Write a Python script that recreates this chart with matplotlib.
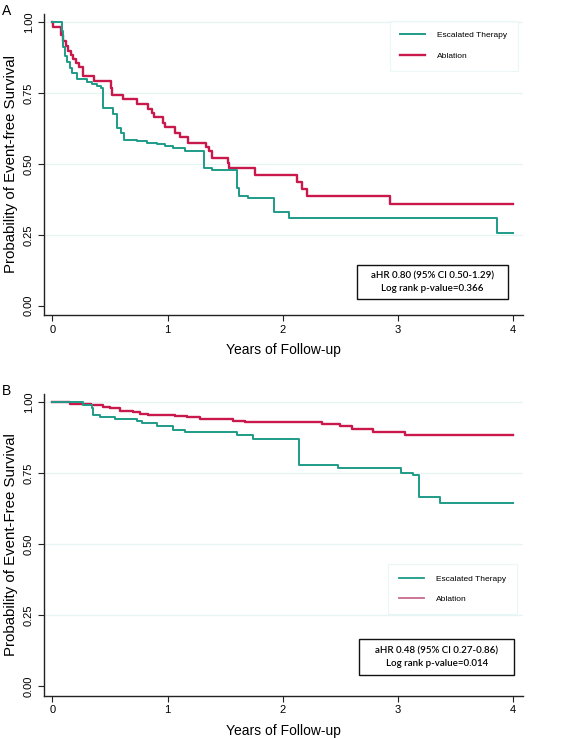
import matplotlib
matplotlib.use("Agg")
import matplotlib.pyplot as plt
from matplotlib.patches import Rectangle
from matplotlib.lines import Line2D

# ---------------- data ----------------
# Panel A
a_esc_t = [0.0, 0.081, 0.09, 0.11, 0.124, 0.153, 0.168, 0.217, 0.304, 0.341, 0.385, 0.419,
           0.437, 0.529, 0.558, 0.593, 0.622, 0.732, 0.818, 0.905, 0.978, 1.05, 1.151,
           1.316, 1.382, 1.605, 1.623, 1.70, 1.926, 2.056, 3.861, 4.0]
a_esc_s = [1.0, 0.97, 0.914, 0.881, 0.86, 0.84, 0.822, 0.801, 0.79, 0.782, 0.775, 0.767,
           0.696, 0.676, 0.626, 0.61, 0.585, 0.58, 0.575, 0.57, 0.565, 0.555, 0.545,
           0.485, 0.48, 0.414, 0.388, 0.38, 0.329, 0.308, 0.258, 0.258]
a_abl_t = [0.0, 0.005, 0.075, 0.095, 0.116, 0.139, 0.159, 0.182, 0.205, 0.231, 0.263,
           0.364, 0.506, 0.515, 0.616, 0.732, 0.833, 0.862, 0.882, 0.963, 0.978, 1.064,
           1.108, 1.18, 1.333, 1.362, 1.388, 1.521, 1.536, 1.758, 2.12, 2.163, 2.207,
           2.93, 4.0]
a_abl_s = [1.0, 0.985, 0.955, 0.935, 0.918, 0.90, 0.885, 0.872, 0.857, 0.843, 0.81,
           0.793, 0.767, 0.744, 0.729, 0.711, 0.695, 0.68, 0.665, 0.644, 0.629, 0.61,
           0.595, 0.575, 0.56, 0.545, 0.52, 0.502, 0.485, 0.461, 0.438, 0.412, 0.387,
           0.359, 0.359]

# Panel B
b_esc_t = [0.0, 0.27, 0.341, 0.35, 0.414, 0.544, 0.732, 0.775, 0.905, 1.05, 1.151, 1.60,
           1.744, 2.143, 2.481, 3.03, 3.132, 3.185, 3.364, 4.0]
b_esc_s = [1.0, 0.99, 0.98, 0.955, 0.947, 0.943, 0.935, 0.928, 0.918, 0.902, 0.897, 0.885,
           0.87, 0.78, 0.769, 0.752, 0.745, 0.665, 0.647, 0.647]
b_abl_t = [0.0, 0.153, 0.34, 0.44, 0.50, 0.587, 0.70, 0.76, 0.833, 1.064, 1.166, 1.281,
           1.383, 1.57, 1.67, 1.975, 2.337, 2.50, 2.60, 2.785, 3.06, 4.0]
b_abl_s = [1.0, 0.995, 0.99, 0.985, 0.98, 0.971, 0.965, 0.96, 0.957, 0.952, 0.947, 0.943,
           0.94, 0.935, 0.932, 0.929, 0.925, 0.917, 0.906, 0.897, 0.885, 0.885]

series_names = ["Escalated Therapy", "Ablation"]
x_ticks = [0, 1, 2, 3, 4]
y_ticks = [0.0, 0.25, 0.5, 0.75, 1.0]
y_ticklabels = ["0.00", "0.25", "0.50", "0.75", "1.00"]
panel_letters = ["A", "B"]
ylabels = ["Probability of Event-free Survival", "Probability of Event-Free Survival"]
xlabel = "Years of Follow-up"
stats_texts = ["aHR 0.80 (95% CI 0.50-1.29)\nLog rank p-value=0.366",
               "aHR 0.48 (95% CI 0.27-0.86)\nLog rank p-value=0.014"]

TEAL = "#1e9b88"
RED = "#c8184c"
GRID = "#e6f4f4"

plt.rcParams['font.family'] = ['Liberation Sans', 'DejaVu Sans']

fig = plt.figure(figsize=(5.73, 7.38), dpi=100)
W, H = 573, 738

def make_axes(top_px, bottom_px):
    left_px, right_px = 43.5, 522.5
    return fig.add_axes([left_px / W, 1 - bottom_px / H,
                         (right_px - left_px) / W, (bottom_px - top_px) / H])

axA = make_axes(13.8, 315.0)
axB = make_axes(393.8, 695.7)

panels = [
    (axA, a_esc_t, a_esc_s, a_abl_t, a_abl_s),
    (axB, b_esc_t, b_esc_s, b_abl_t, b_abl_s),
]

for i, (ax, et, es, at, as_) in enumerate(panels):
    ax.set_xlim(-0.076, 4.08)
    ax.set_ylim(-0.033, 1.03)
    for y in y_ticks[1:]:
        ax.axhline(y, color=GRID, lw=0.9, zorder=0)
    ax.step(et, es, where="post", color=TEAL, lw=1.4, zorder=3, label=series_names[0])
    ax.step(at, as_, where="post", color=RED, lw=1.7, zorder=2, label=series_names[1])
    for s in ["top", "right"]:
        ax.spines[s].set_visible(False)
    for s in ["left", "bottom"]:
        ax.spines[s].set_color("#222222")
        ax.spines[s].set_linewidth(1.0)
    ax.set_xticks(x_ticks)
    ax.set_xticklabels([str(t) for t in x_ticks], fontsize=8)
    ax.set_yticks(y_ticks)
    ax.set_yticklabels(y_ticklabels, fontsize=8, rotation=90, va="center")
    ax.tick_params(axis="both", length=4, width=0.8, color="#222222", pad=3)
    ax.set_xlabel(xlabel, fontsize=10, labelpad=6)
    ax.set_ylabel(ylabels[i], fontsize=10.8, labelpad=4)

# legends
legA = axA.legend(loc="upper right", bbox_to_anchor=(0.9906, 0.977), fontsize=6,
                  frameon=True, fancybox=False, edgecolor=GRID, handlelength=3.0,
                  handletextpad=1.4, labelspacing=1.5, borderpad=1.3, borderaxespad=0)
legA.get_frame().set_linewidth(0.8)

handlesB = [Line2D([], [], color=TEAL, lw=1.3), Line2D([], [], color="#c76b91", lw=1.3)]
legB = axB.legend(handlesB, series_names, loc="upper right", bbox_to_anchor=(0.988, 0.4352),
                  fontsize=6, frameon=True, fancybox=False, edgecolor=GRID,
                  handlelength=3.0, handletextpad=1.4, labelspacing=1.5, borderpad=1.3,
                  borderaxespad=0)
legB.get_frame().set_linewidth(0.8)

# stats boxes
boxes = [(axA, 0.812, 0.109, 0.3165, 0.1139), (axB, 0.8208, 0.1277, 0.323, 0.118)]
for i, (ax, cx, cy, bw, bh) in enumerate(boxes):
    ax.add_patch(Rectangle((cx - bw / 2, cy - bh / 2), bw, bh, transform=ax.transAxes,
                           fill=False, edgecolor="#111111", lw=1.0, zorder=5))
    ax.text(cx, cy, stats_texts[i], transform=ax.transAxes, ha="center", va="center",
            fontsize=7, family=["Lato", "DejaVu Sans"], fontweight="semibold",
            linespacing=1.45, zorder=6)

fig.text(2 / W, 1 - 4 / H, panel_letters[0], fontsize=10, va="top", ha="left")
fig.text(2 / W, 1 - 384 / H, panel_letters[1], fontsize=10, va="top", ha="left")

fig.savefig("out.png", dpi=100)
